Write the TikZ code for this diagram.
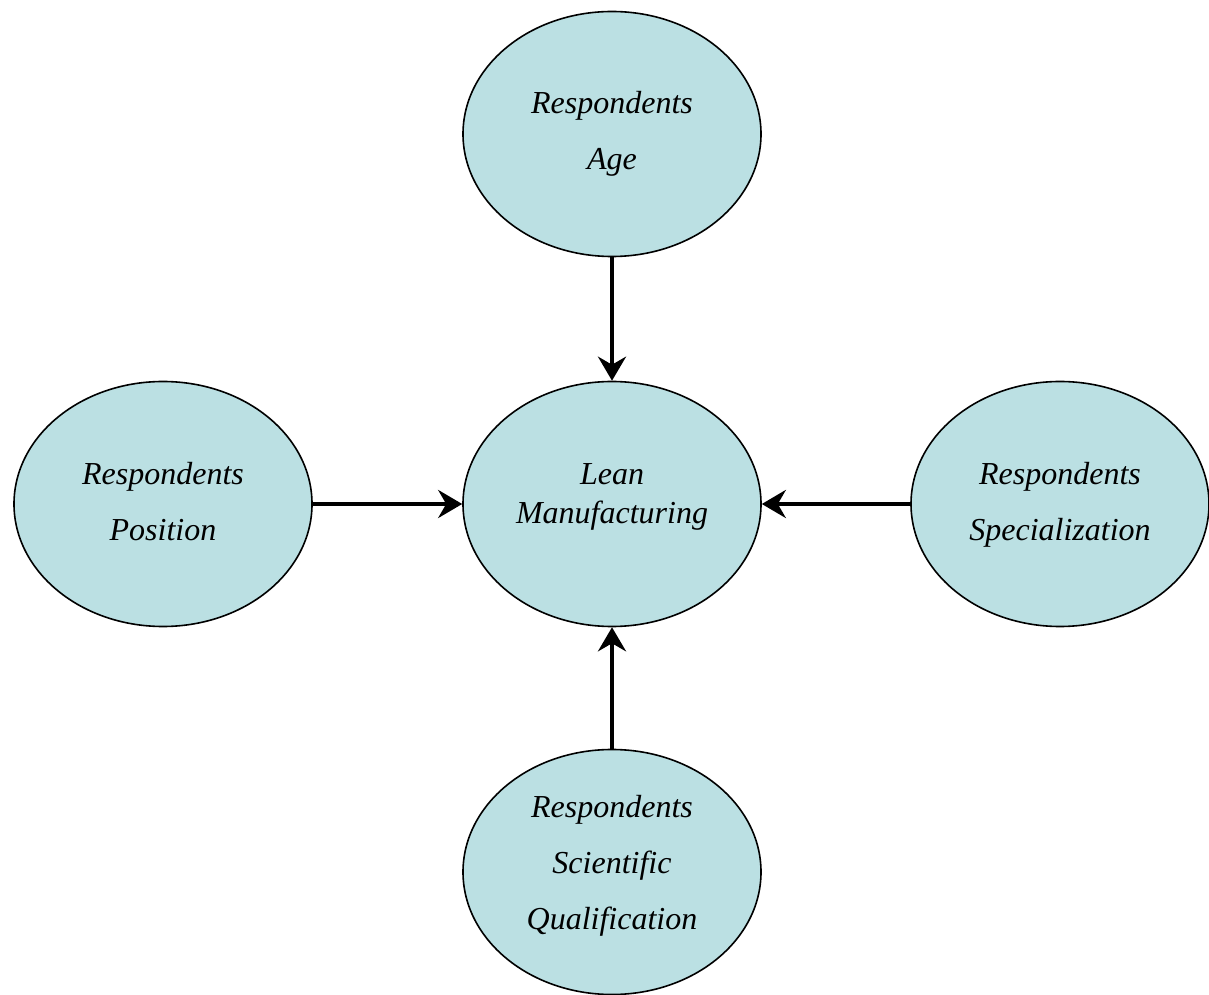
\documentclass[tikz,border=0pt]{standalone}
\usepackage{fontspec}
\setmainfont{Liberation Serif}
\usetikzlibrary{shapes.geometric,arrows.meta}
\newcommand{\bubtext}[2]{\raisebox{#1}[0pt][0pt]{\begin{tabular}{@{}c@{}}#2\end{tabular}}}
\begin{document}
\begin{tikzpicture}[x=1pt,y=1pt,
  bub/.style={ellipse,draw=black,line width=1.6pt,fill=bubfill,minimum width=298pt,minimum height=245pt,inner sep=0pt,align=center,font=\fontsize{32}{56}\selectfont\itshape},
  link/.style={line width=4.5pt,-{Stealth[length=24pt,width=28pt,inset=8pt]}}]
\definecolor{bubfill}{HTML}{BBE0E3}
\useasboundingbox (0,0) rectangle (1209,994);
\node[bub] (age) at (612,860) {Respondents\\Age};
\node[bub] (lean) at (612,490) {\fontsize{32}{39}\selectfont\bubtext{2pt}{Lean\\Manufacturing}};
\node[bub] (pos) at (163,490) {\bubtext{-4pt}{Respondents\\Position}};
\node[bub] (spec) at (1060,490) {\bubtext{-4pt}{Respondents\\Specialization}};
\node[bub] (qual) at (612,122) {\bubtext{3pt}{Respondents\\Scientific\\Qualification}};
\draw[link] (age) -- (lean);
\draw[link] (pos) -- (lean);
\draw[link] (spec) -- (lean);
\draw[link] (qual) -- (lean);
\end{tikzpicture}
\end{document}
